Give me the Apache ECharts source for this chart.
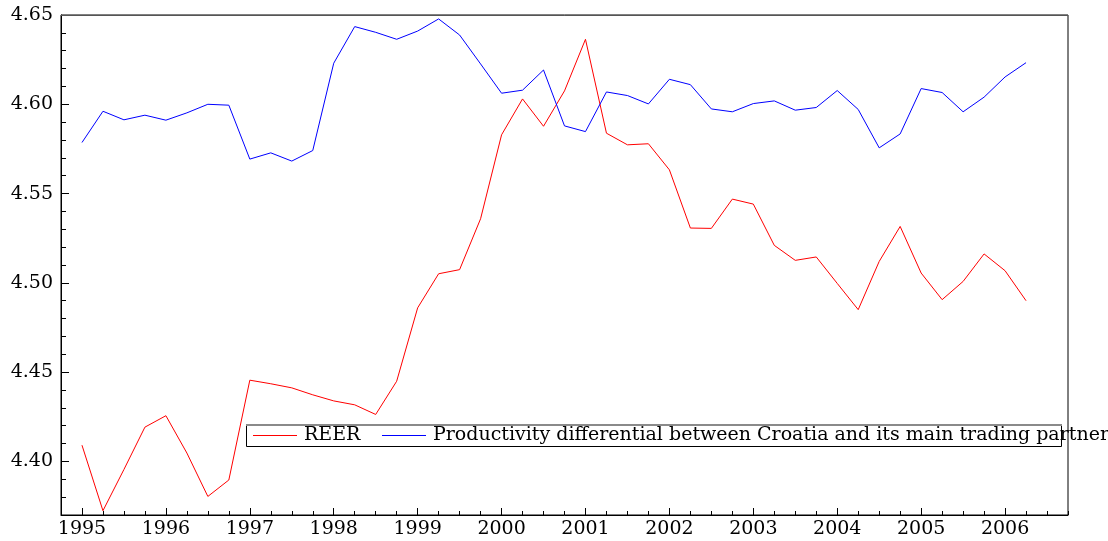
<!DOCTYPE html>
<html>
<head>
<meta charset="utf-8">
<script src="https://cdn.jsdelivr.net/npm/echarts@6/dist/echarts.min.js"></script>
<style>
  html, body { margin: 0; padding: 0; background: #fff; }
  #chart { width: 1108px; height: 541px; }
</style>
</head>
<body>
<div id="chart"></div>
<script>
// Quarterly observations, 1995Q1 – 2006Q2 (log levels)
const startYear = 1995;
const seriesNames = ['REER', 'Productivity differential between Croatia and its main trading partners'];
const reer = [
  4.4091, 4.3724, 4.3955, 4.4192, 4.4256, 4.4047, 4.3804, 4.3896, 4.4455, 4.4435,
  4.4412, 4.4373, 4.4339, 4.4317, 4.4263, 4.4449, 4.4860, 4.5051, 4.5074, 4.5359,
  4.5829, 4.6030, 4.5877, 4.6075, 4.6364, 4.5838, 4.5773, 4.5779, 4.5633, 4.5307,
  4.5305, 4.5469, 4.5441, 4.5210, 4.5126, 4.5145, 4.4997, 4.4850, 4.5120, 4.5316,
  4.5055, 4.4906, 4.5008, 4.5162, 4.5068, 4.4900
];
const productivity = [
  4.5786, 4.5961, 4.5913, 4.5939, 4.5911, 4.5952, 4.6000, 4.5995, 4.5693, 4.5728,
  4.5682, 4.5741, 4.6230, 4.6435, 4.6403, 4.6364, 4.6410, 4.6478, 4.6388, 4.6226,
  4.6062, 4.6079, 4.6192, 4.5879, 4.5847, 4.6069, 4.6049, 4.6002, 4.6140, 4.6110,
  4.5974, 4.5958, 4.6004, 4.6019, 4.5967, 4.5982, 4.6077, 4.5971, 4.5756, 4.5834,
  4.6088, 4.6066, 4.5958, 4.6040, 4.6153, 4.6233
];
const yearTicks = [1995, 1996, 1997, 1998, 1999, 2000, 2001, 2002, 2003, 2004, 2005, 2006];
const yTickLabels = [4.40, 4.45, 4.50, 4.55, 4.60, 4.65];

// quarter positions on a decimal-year axis
const toPairs = vals => vals.map((v, i) => [startYear + i / 4, v]);
const quarterTicks = [];
for (let q = 1994.75; q <= 2006.75 + 1e-9; q += 0.25) quarterTicks.push(+q.toFixed(2));
const yMinorTicks = [];
for (let k = 437; k <= 465; k++) yMinorTicks.push(k / 100);

const FONT = 'DejaVu Serif';
const FONT_SIZE = 19;
const xMin = 1994.75, xMax = 2006.75, yMin = 4.37, yMax = 4.65;

const chart = echarts.init(document.getElementById('chart'), null, { renderer: 'canvas' });
chart.setOption({
  animation: false,
  backgroundColor: '#ffffff',
  grid: {
    left: 61, right: 40, top: 15, bottom: 26,
    show: true, borderColor: '#000', borderWidth: 1, backgroundColor: 'transparent'
  },
  xAxis: [
    {
      type: 'value', min: xMin, max: xMax, position: 'bottom',
      splitLine: { show: false },
      axisLine: { show: true, lineStyle: { color: '#000', width: 1 } },
      axisTick: { show: true, inside: true, length: 7, customValues: yearTicks, lineStyle: { color: '#000' } },
      axisLabel: {
        customValues: yearTicks, margin: 5, color: '#000',
        fontFamily: FONT, fontSize: FONT_SIZE, formatter: v => String(Math.round(v))
      }
    },
    {
      type: 'value', min: xMin, max: xMax, position: 'bottom',
      splitLine: { show: false },
      axisLine: { show: false },
      axisTick: { show: true, inside: true, length: 4, customValues: quarterTicks, lineStyle: { color: '#000' } },
      axisLabel: { show: false }
    }
  ],
  yAxis: [
    {
      type: 'value', min: yMin, max: yMax, position: 'left',
      splitLine: { show: false },
      axisLine: { show: true, lineStyle: { color: '#000', width: 1 } },
      axisTick: { show: true, inside: true, length: 8, customValues: yTickLabels, lineStyle: { color: '#000' } },
      axisLabel: {
        customValues: yTickLabels, margin: 8, color: '#000',
        fontFamily: FONT, fontSize: FONT_SIZE, formatter: v => v.toFixed(2)
      }
    },
    {
      type: 'value', min: yMin, max: yMax, position: 'left',
      splitLine: { show: false },
      axisLine: { show: false },
      axisTick: { show: true, inside: true, length: 5, customValues: yMinorTicks, lineStyle: { color: '#000' } },
      axisLabel: { show: false }
    }
  ],
  legend: [
    {
      data: [seriesNames[0]], left: 253, top: 426, padding: 0,
      icon: 'rect', itemWidth: 44, itemHeight: 1, itemGap: 0,
      textStyle: { fontFamily: FONT, fontSize: FONT_SIZE, color: '#000', padding: [0, 0, 0, 2] },
      selectedMode: false, z: 5
    },
    {
      data: [seriesNames[1]], left: 382, top: 426, padding: 0,
      icon: 'rect', itemWidth: 44, itemHeight: 1, itemGap: 0,
      textStyle: { fontFamily: FONT, fontSize: FONT_SIZE, color: '#000', padding: [0, 0, 0, 2] },
      selectedMode: false, z: 5
    }
  ],
  graphic: [
    {
      type: 'rect', z: 3,
      shape: { x: 246.5, y: 425.5, width: 815, height: 21 },
      style: { fill: '#fff', stroke: '#000', lineWidth: 1 }
    },
    {
      type: 'line', z: 4,
      shape: { x1: 246, y1: 425, x2: 1062, y2: 425 },
      style: { stroke: '#8a8a8a', lineWidth: 2 }
    },
    {
      type: 'line', z: 4,
      shape: { x1: 61, y1: 15.5, x2: 1068, y2: 15.5 },
      style: { stroke: '#555', lineWidth: 1 }
    }
  ],
  series: [
    {
      name: seriesNames[0], type: 'line', data: toPairs(reer),
      xAxisIndex: 0, yAxisIndex: 0,
      symbol: 'none', lineStyle: { color: '#ff0000', width: 1 }, itemStyle: { color: '#ff0000' }
    },
    {
      name: seriesNames[1], type: 'line', data: toPairs(productivity),
      xAxisIndex: 0, yAxisIndex: 0,
      symbol: 'none', lineStyle: { color: '#0000ff', width: 1 }, itemStyle: { color: '#0000ff' }
    }
  ]
});
</script>
</body>
</html>
